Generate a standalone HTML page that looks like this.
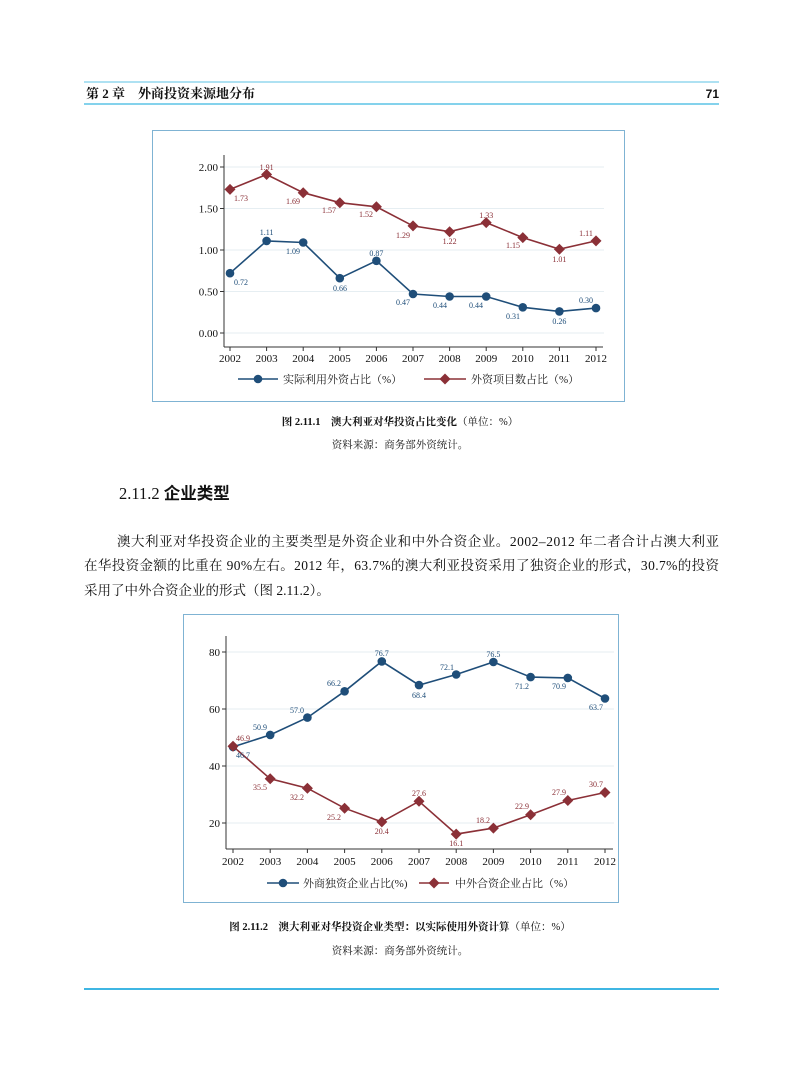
<!DOCTYPE html>
<html><head><meta charset="utf-8"><style>
html,body{margin:0;padding:0;background:#fff;}
svg{display:block;}
.t{font-family:"Liberation Serif","Noto Serif CJK SC",serif;}
.s{font-family:"Liberation Sans","Noto Sans CJK SC",sans-serif;}
</style></head><body>
<svg width="793" height="1077" viewBox="0 0 793 1077" xmlns="http://www.w3.org/2000/svg">
<rect width="793" height="1077" fill="#fff"/>
<line x1="84" y1="82" x2="719" y2="82" stroke="#5cc3e6" stroke-width="1"/>
<text x="86" y="98" class="t" font-size="13" font-weight="bold" fill="#111">第 2 章　外商投资来源地分布</text>
<text x="719" y="98" class="s" font-size="12" font-weight="bold" text-anchor="end" fill="#111">71</text>
<line x1="84" y1="104" x2="719" y2="104" stroke="#5cc3e6" stroke-width="1.5"/>

<rect x="152.5" y="130.5" width="472" height="271" fill="#fff" stroke="#7fb3d3" stroke-width="1"/>
<g stroke="#e6eef2" stroke-width="1">
<line x1="224" y1="167" x2="604" y2="167"/><line x1="224" y1="208.5" x2="604" y2="208.5"/>
<line x1="224" y1="250" x2="604" y2="250"/><line x1="224" y1="291.5" x2="604" y2="291.5"/>
<line x1="224" y1="333" x2="604" y2="333"/></g>
<g stroke="#333" stroke-width="1" fill="none">
<line x1="224" y1="155" x2="224" y2="347"/><line x1="224" y1="347" x2="603" y2="347"/>
<line x1="220" y1="167" x2="224" y2="167"/><line x1="220" y1="208.5" x2="224" y2="208.5"/><line x1="220" y1="250" x2="224" y2="250"/><line x1="220" y1="291.5" x2="224" y2="291.5"/><line x1="220" y1="333" x2="224" y2="333"/>
<line x1="230" y1="347" x2="230" y2="351"/><line x1="266.6" y1="347" x2="266.6" y2="351"/><line x1="303.2" y1="347" x2="303.2" y2="351"/><line x1="339.8" y1="347" x2="339.8" y2="351"/><line x1="376.4" y1="347" x2="376.4" y2="351"/><line x1="413" y1="347" x2="413" y2="351"/><line x1="449.6" y1="347" x2="449.6" y2="351"/><line x1="486.2" y1="347" x2="486.2" y2="351"/><line x1="522.8" y1="347" x2="522.8" y2="351"/><line x1="559.4" y1="347" x2="559.4" y2="351"/><line x1="596" y1="347" x2="596" y2="351"/>
</g>
<g class="t" font-size="11" fill="#111" text-anchor="end">
<text x="218" y="171">2.00</text><text x="218" y="212.5">1.50</text><text x="218" y="254">1.00</text><text x="218" y="295.5">0.50</text><text x="218" y="337">0.00</text></g>
<g class="t" font-size="11" fill="#111" text-anchor="middle">
<text x="230" y="362">2002</text><text x="266.6" y="362">2003</text><text x="303.2" y="362">2004</text><text x="339.8" y="362">2005</text><text x="376.4" y="362">2006</text><text x="413" y="362">2007</text><text x="449.6" y="362">2008</text><text x="486.2" y="362">2009</text><text x="522.8" y="362">2010</text><text x="559.4" y="362">2011</text><text x="596" y="362">2012</text></g>
<polyline fill="none" stroke="#1f4e79" stroke-width="1.6" points="230,273.2 266.6,240.9 303.2,242.5 339.8,278.2 376.4,260.8 413,294 449.6,296.5 486.2,296.5 522.8,307.3 559.4,311.4 596,308.1"/>
<g fill="#1f4e79"><circle cx="230" cy="273.2" r="4.3"/><circle cx="266.6" cy="240.9" r="4.3"/><circle cx="303.2" cy="242.5" r="4.3"/><circle cx="339.8" cy="278.2" r="4.3"/><circle cx="376.4" cy="260.8" r="4.3"/><circle cx="413" cy="294" r="4.3"/><circle cx="449.6" cy="296.5" r="4.3"/><circle cx="486.2" cy="296.5" r="4.3"/><circle cx="522.8" cy="307.3" r="4.3"/><circle cx="559.4" cy="311.4" r="4.3"/><circle cx="596" cy="308.1" r="4.3"/></g>
<polyline fill="none" stroke="#8b3037" stroke-width="1.6" points="230,189.4 266.6,174.5 303.2,192.7 339.8,202.7 376.4,206.8 413,225.9 449.6,231.7 486.2,222.6 522.8,237.6 559.4,249.2 596,240.9"/>
<g fill="#8b3037">
<path d="M230,183.9l5.5,5.5l-5.5,5.5l-5.5,-5.5z"/><path d="M266.6,169l5.5,5.5l-5.5,5.5l-5.5,-5.5z"/><path d="M303.2,187.2l5.5,5.5l-5.5,5.5l-5.5,-5.5z"/><path d="M339.8,197.2l5.5,5.5l-5.5,5.5l-5.5,-5.5z"/><path d="M376.4,201.3l5.5,5.5l-5.5,5.5l-5.5,-5.5z"/><path d="M413,220.4l5.5,5.5l-5.5,5.5l-5.5,-5.5z"/><path d="M449.6,226.2l5.5,5.5l-5.5,5.5l-5.5,-5.5z"/><path d="M486.2,217.1l5.5,5.5l-5.5,5.5l-5.5,-5.5z"/><path d="M522.8,232.1l5.5,5.5l-5.5,5.5l-5.5,-5.5z"/><path d="M559.4,243.7l5.5,5.5l-5.5,5.5l-5.5,-5.5z"/><path d="M596,235.4l5.5,5.5l-5.5,5.5l-5.5,-5.5z"/></g>
<g class="t" font-size="8" fill="#1f4e79" text-anchor="middle">
<text x="241" y="285">0.72</text><text x="266.6" y="235">1.11</text><text x="293" y="254">1.09</text><text x="340" y="291">0.66</text><text x="376.4" y="256">0.87</text><text x="403" y="305">0.47</text><text x="440" y="308">0.44</text><text x="476" y="308">0.44</text><text x="513" y="319">0.31</text><text x="559.4" y="324">0.26</text><text x="586" y="303">0.30</text></g>
<g class="t" font-size="8" fill="#8b3037" text-anchor="middle">
<text x="241" y="201">1.73</text><text x="266.6" y="170">1.91</text><text x="293" y="204">1.69</text><text x="329" y="213">1.57</text><text x="366" y="217">1.52</text><text x="403" y="238">1.29</text><text x="449.6" y="244">1.22</text><text x="486.2" y="218">1.33</text><text x="513" y="248">1.15</text><text x="559.4" y="262">1.01</text><text x="586" y="236">1.11</text></g>
<line x1="238" y1="379" x2="278" y2="379" stroke="#1f4e79" stroke-width="1.6"/><circle cx="258" cy="379" r="4.3" fill="#1f4e79"/>
<text x="283" y="383" class="t" font-size="11" fill="#222">实际利用外资占比（%）</text>
<line x1="424" y1="379" x2="466" y2="379" stroke="#8b3037" stroke-width="1.6"/><path d="M445,373.5l5.5,5.5l-5.5,5.5l-5.5,-5.5z" fill="#8b3037"/>
<text x="471" y="383" class="t" font-size="11" fill="#222">外资项目数占比（%）</text>

<text x="400" y="425" class="t" font-size="10.5" text-anchor="middle" fill="#111"><tspan font-weight="bold">图 2.11.1　澳大利亚对华投资占比变化</tspan>（单位：%）</text>
<text x="400" y="448" class="t" font-size="10.5" text-anchor="middle" fill="#111">资料来源：商务部外资统计。</text>

<text x="119" y="499" font-size="16.5" fill="#111"><tspan class="t">2.11.2  </tspan><tspan class="s" font-weight="bold">企业类型</tspan></text>
<g class="t" font-size="13.5" fill="#111">
<text x="117" y="546" textLength="602" lengthAdjust="spacing">澳大利亚对华投资企业的主要类型是外资企业和中外合资企业。2002–2012 年二者合计占澳大利亚</text>
<text x="84" y="570" textLength="635" lengthAdjust="spacing">在华投资金额的比重在 90%左右。2012 年，63.7%的澳大利亚投资采用了独资企业的形式，30.7%的投资</text>
<text x="84" y="595">采用了中外合资企业的形式（图 2.11.2）。</text></g>

<rect x="183.5" y="614.5" width="435" height="288" fill="#fff" stroke="#7fb3d3" stroke-width="1"/>
<g stroke="#e6eef2" stroke-width="1">
<line x1="226" y1="652" x2="614" y2="652"/><line x1="226" y1="709" x2="614" y2="709"/><line x1="226" y1="766" x2="614" y2="766"/><line x1="226" y1="823" x2="614" y2="823"/></g>
<g stroke="#333" stroke-width="1" fill="none">
<line x1="226" y1="636" x2="226" y2="849"/><line x1="226" y1="849" x2="613" y2="849"/>
<line x1="222" y1="652" x2="226" y2="652"/><line x1="222" y1="709" x2="226" y2="709"/><line x1="222" y1="766" x2="226" y2="766"/><line x1="222" y1="823" x2="226" y2="823"/>
<line x1="233" y1="849" x2="233" y2="853"/><line x1="270.2" y1="849" x2="270.2" y2="853"/><line x1="307.4" y1="849" x2="307.4" y2="853"/><line x1="344.6" y1="849" x2="344.6" y2="853"/><line x1="381.8" y1="849" x2="381.8" y2="853"/><line x1="419" y1="849" x2="419" y2="853"/><line x1="456.2" y1="849" x2="456.2" y2="853"/><line x1="493.4" y1="849" x2="493.4" y2="853"/><line x1="530.6" y1="849" x2="530.6" y2="853"/><line x1="567.8" y1="849" x2="567.8" y2="853"/><line x1="605" y1="849" x2="605" y2="853"/>
</g>
<g class="t" font-size="11" fill="#111" text-anchor="end">
<text x="220" y="656">80</text><text x="220" y="713">60</text><text x="220" y="770">40</text><text x="220" y="827">20</text></g>
<g class="t" font-size="11" fill="#111" text-anchor="middle">
<text x="233" y="865">2002</text><text x="270.2" y="865">2003</text><text x="307.4" y="865">2004</text><text x="344.6" y="865">2005</text><text x="381.8" y="865">2006</text><text x="419" y="865">2007</text><text x="456.2" y="865">2008</text><text x="493.4" y="865">2009</text><text x="530.6" y="865">2010</text><text x="567.8" y="865">2011</text><text x="605" y="865">2012</text></g>
<polyline fill="none" stroke="#1f4e79" stroke-width="1.6" points="233,746.9 270.2,734.9 307.4,717.6 344.6,691.3 381.8,661.4 419,685.1 456.2,674.5 493.4,662 530.6,677.1 567.8,677.9 605,698.5"/>
<g fill="#1f4e79"><circle cx="233" cy="746.9" r="4.3"/><circle cx="270.2" cy="734.9" r="4.3"/><circle cx="307.4" cy="717.6" r="4.3"/><circle cx="344.6" cy="691.3" r="4.3"/><circle cx="381.8" cy="661.4" r="4.3"/><circle cx="419" cy="685.1" r="4.3"/><circle cx="456.2" cy="674.5" r="4.3"/><circle cx="493.4" cy="662" r="4.3"/><circle cx="530.6" cy="677.1" r="4.3"/><circle cx="567.8" cy="677.9" r="4.3"/><circle cx="605" cy="698.5" r="4.3"/></g>
<polyline fill="none" stroke="#8b3037" stroke-width="1.6" points="233,746.3 270.2,778.8 307.4,788.2 344.6,808.2 381.8,821.9 419,801.3 456.2,834.1 493.4,828.1 530.6,814.7 567.8,800.5 605,792.5"/>
<g fill="#8b3037">
<path d="M233,740.8l5.5,5.5l-5.5,5.5l-5.5,-5.5z"/><path d="M270.2,773.3l5.5,5.5l-5.5,5.5l-5.5,-5.5z"/><path d="M307.4,782.7l5.5,5.5l-5.5,5.5l-5.5,-5.5z"/><path d="M344.6,802.7l5.5,5.5l-5.5,5.5l-5.5,-5.5z"/><path d="M381.8,816.4l5.5,5.5l-5.5,5.5l-5.5,-5.5z"/><path d="M419,795.8l5.5,5.5l-5.5,5.5l-5.5,-5.5z"/><path d="M456.2,828.6l5.5,5.5l-5.5,5.5l-5.5,-5.5z"/><path d="M493.4,822.6l5.5,5.5l-5.5,5.5l-5.5,-5.5z"/><path d="M530.6,809.2l5.5,5.5l-5.5,5.5l-5.5,-5.5z"/><path d="M567.8,795l5.5,5.5l-5.5,5.5l-5.5,-5.5z"/><path d="M605,787l5.5,5.5l-5.5,5.5l-5.5,-5.5z"/></g>
<g class="t" font-size="8" fill="#1f4e79" text-anchor="middle">
<text x="243" y="758">46.7</text><text x="260" y="730">50.9</text><text x="297" y="713">57.0</text><text x="334" y="686">66.2</text><text x="381.8" y="656">76.7</text><text x="419" y="698">68.4</text><text x="447" y="670">72.1</text><text x="493.4" y="657">76.5</text><text x="522" y="689">71.2</text><text x="559" y="689">70.9</text><text x="596" y="710">63.7</text></g>
<g class="t" font-size="8" fill="#8b3037" text-anchor="middle">
<text x="243" y="741">46.9</text><text x="260" y="790">35.5</text><text x="297" y="800">32.2</text><text x="334" y="820">25.2</text><text x="381.8" y="834">20.4</text><text x="419" y="796">27.6</text><text x="456.2" y="846">16.1</text><text x="483" y="823">18.2</text><text x="522" y="809">22.9</text><text x="559" y="795">27.9</text><text x="596" y="787">30.7</text></g>
<line x1="267" y1="883" x2="299" y2="883" stroke="#1f4e79" stroke-width="1.6"/><circle cx="283" cy="883" r="4.3" fill="#1f4e79"/>
<text x="303" y="887" class="t" font-size="11" fill="#222">外商独资企业占比(%)</text>
<line x1="419" y1="883" x2="449" y2="883" stroke="#8b3037" stroke-width="1.6"/><path d="M434,877.5l5.5,5.5l-5.5,5.5l-5.5,-5.5z" fill="#8b3037"/>
<text x="455" y="887" class="t" font-size="11" fill="#222">中外合资企业占比（%）</text>

<text x="400" y="930" class="t" font-size="10.5" text-anchor="middle" fill="#111"><tspan font-weight="bold">图 2.11.2　澳大利亚对华投资企业类型：以实际使用外资计算</tspan>（单位：%）</text>
<text x="400" y="954" class="t" font-size="10.5" text-anchor="middle" fill="#111">资料来源：商务部外资统计。</text>

<line x1="84" y1="989" x2="719" y2="989" stroke="#3fb6e3" stroke-width="2"/>
</svg>
</body></html>
